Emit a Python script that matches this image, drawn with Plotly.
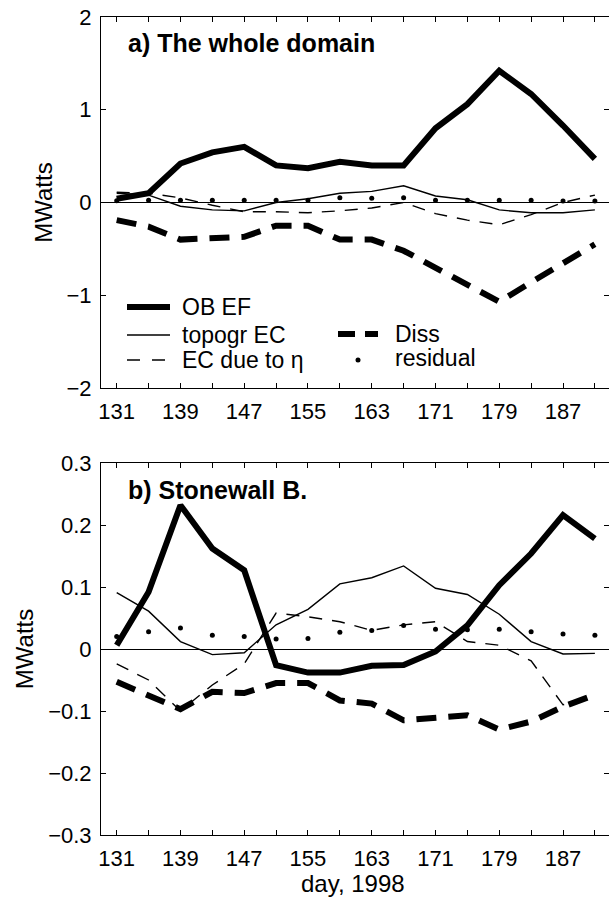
import plotly.graph_objects as go

# ---------------- data ----------------
days = [131, 135, 139, 143, 147, 151, 155, 159, 163, 167, 171, 175, 179, 183, 187, 191]
xtick_labels = ["131", "", "139", "", "147", "", "155", "", "163", "", "171", "", "179", "", "187", ""]

series_names = ["OB EF", "topogr EC", "EC due to η", "Diss", "residual"]

# panel a) The whole domain
a_ob_ef = [0.04, 0.10, 0.42, 0.54, 0.60, 0.40, 0.37, 0.44, 0.40, 0.40, 0.80, 1.06, 1.42, 1.17, 0.83, 0.47]
a_topo = [0.10, 0.08, -0.04, -0.08, -0.09, 0.00, 0.04, 0.10, 0.12, 0.18, 0.07, 0.03, -0.08, -0.11, -0.11, -0.08]
a_eta = [0.11, 0.10, 0.05, -0.03, -0.10, -0.10, -0.11, -0.09, -0.06, 0.00, -0.12, -0.19, -0.24, -0.13, 0.00, 0.08]
a_diss = [-0.19, -0.26, -0.40, -0.38, -0.37, -0.25, -0.25, -0.40, -0.40, -0.52, -0.70, -0.88, -1.07, -0.86, -0.66, -0.45]
a_res = [0.02, 0.025, 0.025, 0.025, 0.025, 0.025, 0.025, 0.05, 0.045, 0.05, 0.025, 0.025, 0.025, 0.025, 0.015, 0.015]

# panel b) Stonewall B.
b_ob_ef = [0.006, 0.092, 0.232, 0.162, 0.127, -0.026, -0.038, -0.038, -0.027, -0.026, -0.004, 0.038, 0.103, 0.154, 0.216, 0.178]
b_topo = [0.091, 0.061, 0.012, -0.009, -0.006, 0.039, 0.064, 0.105, 0.115, 0.134, 0.098, 0.088, 0.056, 0.012, -0.008, -0.007]
b_eta = [-0.024, -0.050, -0.100, -0.058, -0.024, 0.058, 0.052, 0.044, 0.030, 0.039, 0.044, 0.012, 0.006, -0.019, -0.090, -0.077]
b_diss = [-0.053, -0.074, -0.097, -0.069, -0.071, -0.055, -0.055, -0.083, -0.088, -0.115, -0.111, -0.107, -0.130, -0.117, -0.093, -0.074]
b_res = [0.020, 0.028, 0.034, 0.022, 0.020, 0.016, 0.017, 0.027, 0.030, 0.038, 0.032, 0.031, 0.032, 0.028, 0.024, 0.022]

ya_ticks = [-2, -1, 0, 1, 2]
ya_labels = ["\u22122", "\u22121", "0", "1", "2"]
yb_ticks = [-0.3, -0.2, -0.1, 0, 0.1, 0.2, 0.3]
yb_labels = ["\u22120.3", "\u22120.2", "\u22120.1", "0", "0.1", "0.2", "0.3"]

panel_titles = ["a) The whole domain", "b) Stonewall B."]
y_title = "MWatts"
x_title = "day, 1998"

# ---------------- figure ----------------
W, H = 609, 901
ML, MR, MT, MB = 101, 0, 17, 66
PW, PH = W - ML - MR, H - MT - MB
FONT = "Liberation Sans, Arial, Helvetica, sans-serif"


def xp(px):
    return (px - ML) / PW


def yp(py):
    return (H - MB - py) / PH


styles = [
    dict(mode="lines", line=dict(color="black", width=6)),
    dict(mode="lines", line=dict(color="black", width=1.4)),
    dict(mode="lines", line=dict(color="black", width=1.4, dash="13px,10px")),
    dict(mode="lines", line=dict(color="black", width=6, dash="20px,12px")),
    dict(mode="markers", marker=dict(color="black", size=5)),
]

fig = go.Figure()
panel_data = [
    ("x", "y", [a_ob_ef, a_topo, a_eta, a_diss, a_res]),
    ("x2", "y2", [b_ob_ef, b_topo, b_eta, b_diss, b_res]),
]
for xa, ya, sers in panel_data:
    for i in [4, 3, 2, 1, 0]:
        fig.add_trace(go.Scatter(x=days, y=sers[i], name=series_names[i], xaxis=xa, yaxis=ya,
                                 showlegend=False, hoverinfo="skip", **styles[i]))

xr = [129.03, 192.77]
common_x = dict(range=xr, showline=True, linecolor="black", linewidth=1, mirror="ticks",
                ticks="inside", ticklen=5, tickcolor="black", tickwidth=1,
                tickmode="array", tickvals=days, ticktext=xtick_labels,
                showgrid=False, zeroline=False,
                tickfont=dict(family=FONT, size=22, color="black"), ticklabelstandoff=4)
common_y = dict(showline=True, linecolor="black", linewidth=1, mirror="ticks",
                ticks="inside", ticklen=5, tickcolor="black", tickwidth=1,
                showgrid=False, zeroline=True, zerolinecolor="black", zerolinewidth=1,
                tickfont=dict(family=FONT, size=22, color="black"), ticklabelstandoff=4,
                tickmode="array",
                title=dict(text=y_title, font=dict(family=FONT, size=24, color="black"), standoff=7))

dom_a = [yp(388), 1.0]
dom_b = [0.0, yp(463)]

fig.update_layout(
    width=W, height=H,
    margin=dict(l=ML, r=MR, t=MT, b=MB, pad=0),
    paper_bgcolor="white", plot_bgcolor="white",
    font=dict(family=FONT, color="black"),
    xaxis=dict(domain=[0, 1], anchor="y", **common_x),
    yaxis=dict(domain=dom_a, anchor="x", range=[-2, 2], tickvals=ya_ticks, ticktext=ya_labels, **common_y),
    xaxis2=dict(domain=[0, 1], anchor="y2", **common_x),
    yaxis2=dict(domain=dom_b, anchor="x2", range=[-0.3, 0.3], tickvals=yb_ticks, ticktext=yb_labels, **common_y),
)

annotations = []
annotations.append(dict(text="<b>" + panel_titles[0] + "</b>", x=xp(126), y=yp(43), xref="paper", yref="paper",
                        xanchor="left", yanchor="middle", showarrow=False,
                        font=dict(family=FONT, size=25, color="black")))
annotations.append(dict(text="<b>" + panel_titles[1] + "</b>", x=xp(126), y=yp(490), xref="paper", yref="paper",
                        xanchor="left", yanchor="middle", showarrow=False,
                        font=dict(family=FONT, size=25, color="black")))
annotations.append(dict(text=x_title, x=xp(353), y=yp(883), xref="paper", yref="paper",
                        xanchor="center", yanchor="middle", showarrow=False,
                        font=dict(family=FONT, size=24, color="black")))

# manual legend (panel a)
shapes = []
leg_rows = [
    (0, 127, 170, 307, 6, "solid", 180),
    (1, 127, 170, 335, 1.4, "solid", 180),
    (2, 127, 170, 360, 1.4, "13px,12px", 180),
    (3, 338, 378, 334, 6, "17px,10px", 393),
]
for idx, x0, x1, yy, w, dsh, tx in leg_rows:
    shapes.append(dict(type="line", xref="paper", yref="paper", x0=xp(x0), x1=xp(x1), y0=yp(yy), y1=yp(yy),
                       line=dict(color="black", width=w, dash=dsh)))
    annotations.append(dict(text=series_names[idx], x=xp(tx), y=yp(yy), xref="paper", yref="paper",
                            xanchor="left", yanchor="middle", showarrow=False,
                            font=dict(family=FONT, size=23, color="black")))
r = 2.5
shapes.append(dict(type="circle", xref="paper", yref="paper", x0=xp(358 - r), x1=xp(358 + r),
                   y0=yp(360 + r), y1=yp(360 - r), fillcolor="black", line=dict(color="black", width=0)))
annotations.append(dict(text=series_names[4], x=xp(393), y=yp(358), xref="paper", yref="paper",
                        xanchor="left", yanchor="middle", showarrow=False,
                        font=dict(family=FONT, size=23, color="black")))

fig.update_layout(annotations=annotations, shapes=shapes)
fig.write_html("out.html")
